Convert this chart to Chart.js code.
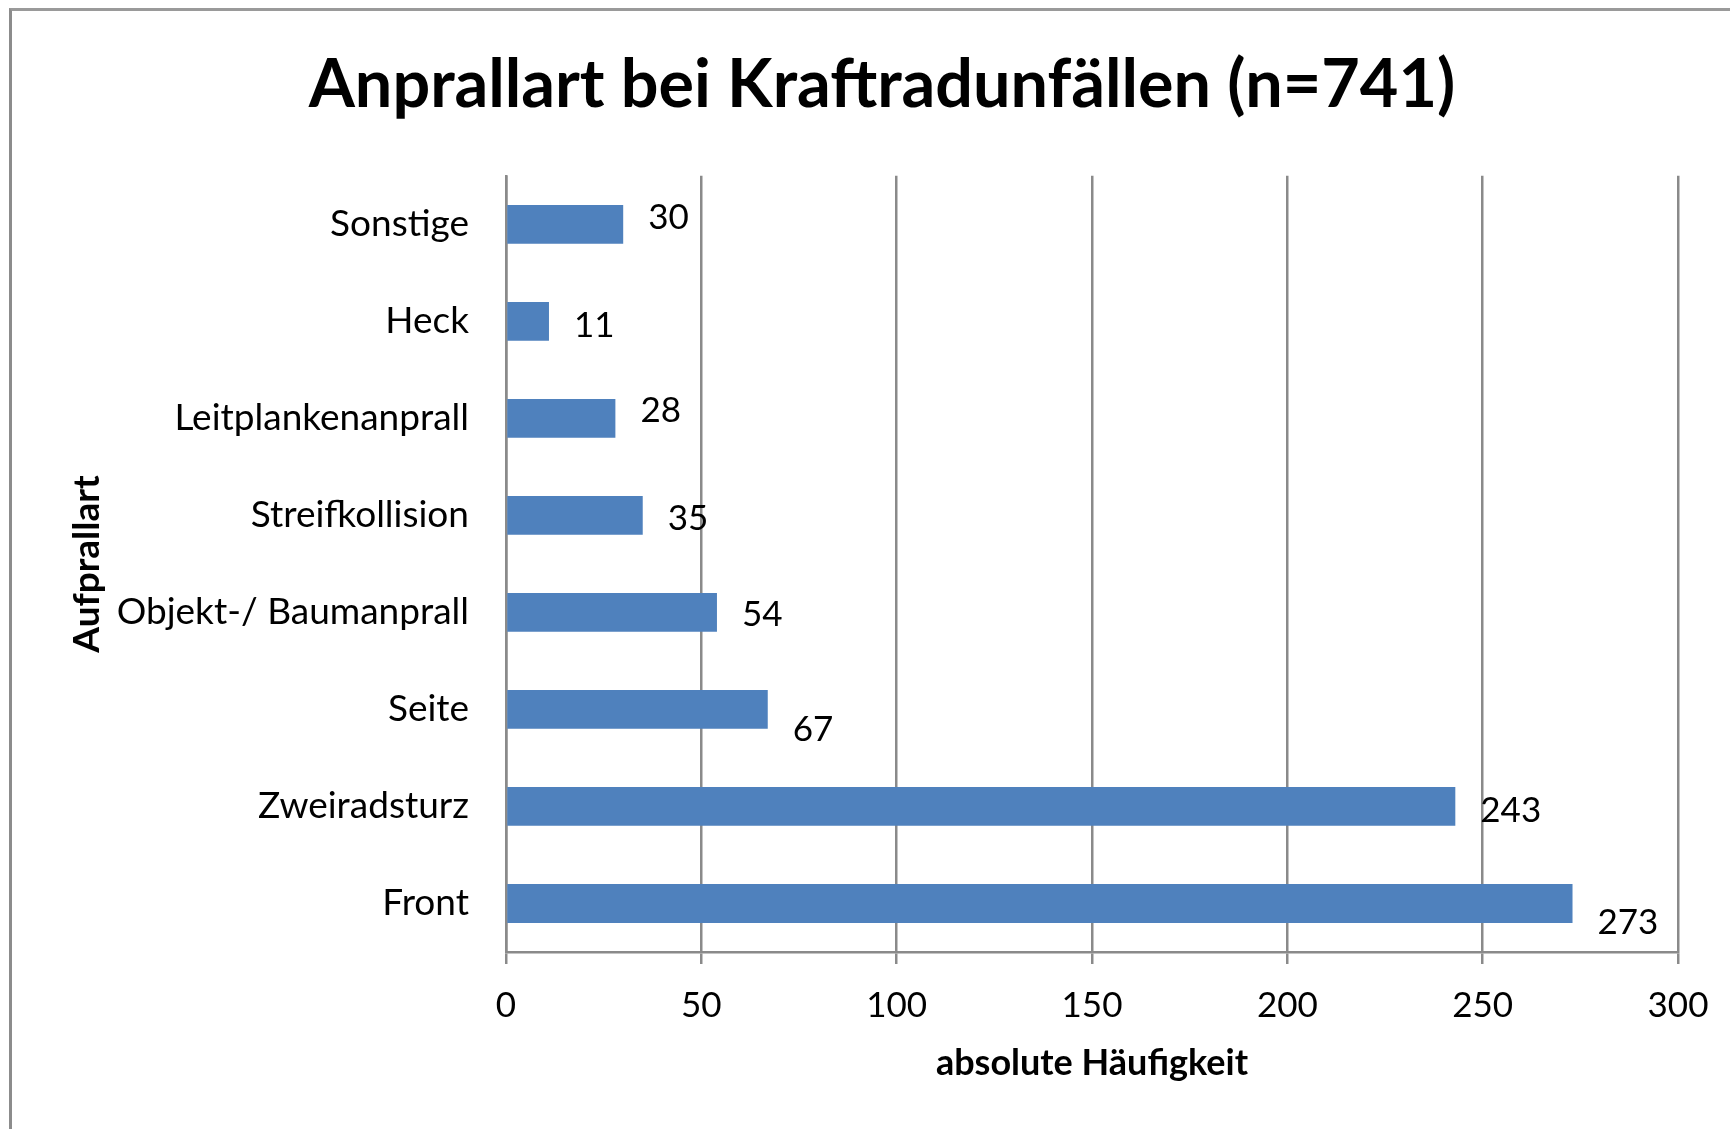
<!DOCTYPE html>
<html lang="de">
<head>
<meta charset="utf-8">
<title>Anprallart bei Kraftradunfällen</title>
<script src="https://cdn.jsdelivr.net/npm/chart.js@4.4.1/dist/chart.umd.min.js"></script>
<style>
  html, body { margin: 0; padding: 0; background: #fff; overflow: hidden; }
  body { width: 1730px; height: 1129px; position: relative; }
  #frame {
    position: absolute;
    left: 9px;
    top: 8px;
    width: 1740px;
    height: 1200px;
    border-left: 3px solid #8c8c8c;
    border-top: 3px solid #9a9a9a;
  }
</style>
</head>
<body>
<div id="frame"><canvas id="chartImpact"></canvas></div>
<script>
const categories = [
  "Sonstige",
  "Heck",
  "Leitplankenanprall",
  "Streifkollision",
  "Objekt-/ Baumanprall",
  "Seite",
  "Zweiradsturz",
  "Front",
];
const counts = [30, 11, 28, 35, 54, 67, 243, 273];
const xTicks = [0, 50, 100, 150, 200, 250, 300];

// vertical nudge of each value label, like the Excel original
const labelShift = [-7, 4, -8, 3, 2, 20, 4, 19];

const FONT = "Lato, 'Open Sans', sans-serif";
const GRID = "#8a8a8a";

const valueLabels = {
  id: "valueLabels",
  afterDatasetsDraw(chart) {
    const ctx = chart.ctx;
    const meta = chart.getDatasetMeta(0);
    ctx.save();
    ctx.font = "35px " + FONT;
    ctx.fillStyle = "#000";
    ctx.textAlign = "left";
    ctx.textBaseline = "middle";
    meta.data.forEach((bar, i) => {
      ctx.fillText(String(counts[i]), bar.x + 25, bar.y + labelShift[i]);
    });
    ctx.restore();
  },
};

function bootChart() {
  const ctx = document.getElementById("chartImpact");

  new Chart(ctx, {
    type: "bar",
    data: {
      labels: categories,
      datasets: [
        {
          label: "absolute Häufigkeit",
          data: counts,
          backgroundColor: "#4f81bd",
          borderWidth: 0,
          categoryPercentage: 1,
          barPercentage: 0.4,
        },
      ],
    },
    options: {
      indexAxis: "y",
      responsive: true,
      maintainAspectRatio: false,
      animation: false,
      layout: { padding: { top: 0, right: 0, bottom: 119, left: 0 } },
      plugins: {
        legend: { display: false },
        tooltip: { enabled: false },
        title: {
          display: true,
          text: "Anprallart bei Kraftradunfällen (n=741)",
          color: "#000",
          font: { family: FONT, size: 66.5, weight: "bold" },
          padding: { top: 35, bottom: 50 },
        },
      },
      scales: {
        x: {
          min: 0,
          max: 300,
          afterBuildTicks: (scale) => {
            scale.ticks = xTicks.map((v) => ({ value: v }));
          },
          afterFit: (scale) => {
            scale.height = 140;
          },
          grid: {
            color: GRID,
            lineWidth: 2.5,
            tickLength: 12,
            tickColor: GRID,
          },
          border: { display: true, color: GRID, width: 2.5 },
          ticks: {
            color: "#000",
            padding: 21,
            maxRotation: 0,
            font: { family: FONT, size: 35 },
          },
          title: {
            display: true,
            text: "absolute Häufigkeit",
            color: "#000",
            font: { family: FONT, size: 36, weight: "bold" },
            padding: { top: 0, bottom: 7 },
          },
        },
        y: {
          afterFit: (scale) => {
            scale.width = 494;
          },
          grid: { display: false },
          border: { display: true, color: GRID, width: 2.5 },
          ticks: {
            color: "#000",
            padding: 29,
            font: { family: FONT, size: 37 },
          },
          title: {
            display: true,
            text: "Aufprallart",
            color: "#000",
            font: { family: FONT, size: 37, weight: "bold" },
            padding: { top: 53, bottom: 0 },
          },
        },
        // empty right-hand box: keeps the plot narrower than the title band
        yPad: {
          type: "linear",
          position: "right",
          min: 0,
          max: 1,
          afterFit: (scale) => {
            scale.width = 74;
          },
          grid: { display: false },
          border: { display: false },
          ticks: { display: false },
        },
      },
    },
    plugins: [valueLabels],
  });
}

document.addEventListener("DOMContentLoaded", bootChart);
</script>
</body>
</html>
